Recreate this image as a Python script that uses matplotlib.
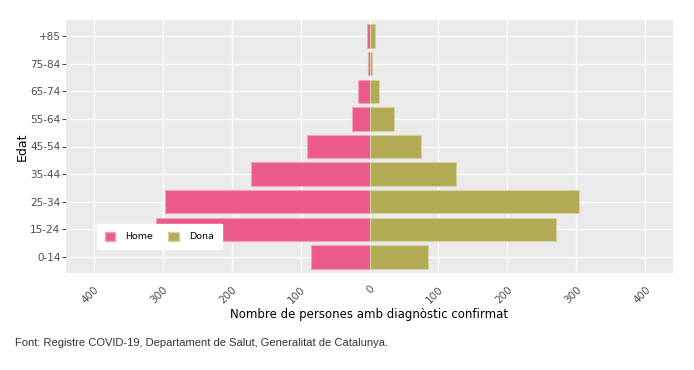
import numpy as np
import matplotlib
matplotlib.use("Agg")
import matplotlib.pyplot as plt
from matplotlib.patches import Patch

# age groups, bottom to top
edats = ["0-14", "15-24", "25-34", "35-44", "45-54", "55-64", "65-74", "75-84", "+85"]
home = [85, 309, 297, 172, 91, 25, 16, 2, 3]
dona = [85, 270, 304, 125, 75, 36, 14, 4, 8]
xticks = [-400, -300, -200, -100, 0, 100, 200, 300, 400]

c_home = "#EC5A8B"
c_dona = "#B3AA55"
grey_bg = "#EBEBEB"
tick_col = "#4D4D4D"

plt.rcParams['font.family'] = ['DejaVu Sans']

fig = plt.figure(figsize=(6.94, 3.70), dpi=100)
ax = fig.add_axes([66 / 694, 1 - 273 / 370, 607 / 694, 253 / 370])
ax.set_facecolor(grey_bg)

y = np.arange(len(edats))
ax.barh(y, -np.array(home), height=0.85, color=c_home, edgecolor="#F4A3BE", linewidth=0.8, zorder=3)
ax.barh(y, dona, height=0.85, color=c_dona, edgecolor="#D6D1A3", linewidth=0.8, zorder=3)

ax.set_xlim(-440, 440)
ax.set_ylim(-0.58, len(edats) - 0.42)
ax.set_yticks(y)
ax.set_yticklabels(edats)
ax.set_xticks(xticks)
ax.set_xticklabels([str(abs(v)) for v in xticks], rotation=45, ha="right", rotation_mode="anchor")
ax.tick_params(axis="x", colors=tick_col, labelsize=7.5, length=0, pad=8)
ax.tick_params(axis="y", colors=tick_col, labelsize=7.5, length=3, width=0.8, pad=1)

ax.grid(True, color="white", linewidth=1.0, zorder=0)
ax.set_axisbelow(True)
for s in ax.spines.values():
    s.set_visible(False)

ax.set_xlabel("Nombre de persones amb diagnòstic confirmat", fontsize=8.5, labelpad=2)
ax.set_ylabel("Edat", fontsize=9, labelpad=1)

# legend box sits inside the plot, over the 15-24 row
handles = [Patch(facecolor=c_home, edgecolor="#F4A3BE"), Patch(facecolor=c_dona, edgecolor="#D6D1A3")]
leg = ax.legend(handles, ["Home", "Dona"], ncol=2, loc="lower left",
                bbox_to_anchor=((97 - 66) / 607, (273 - 249) / 253),
                borderaxespad=0,
                frameon=True, fancybox=False, framealpha=1, edgecolor="white",
                fontsize=6.8, handlelength=1.1, handleheight=1.1, columnspacing=1.6,
                handletextpad=1.1, borderpad=0.8)

fig.text(15 / 694, 1 - 343 / 370, "Font: Registre COVID-19, Departament de Salut, Generalitat de Catalunya.",
         fontsize=8, family="Liberation Sans", color="#333333", va="center")

fig.savefig("out.png", dpi=100)
